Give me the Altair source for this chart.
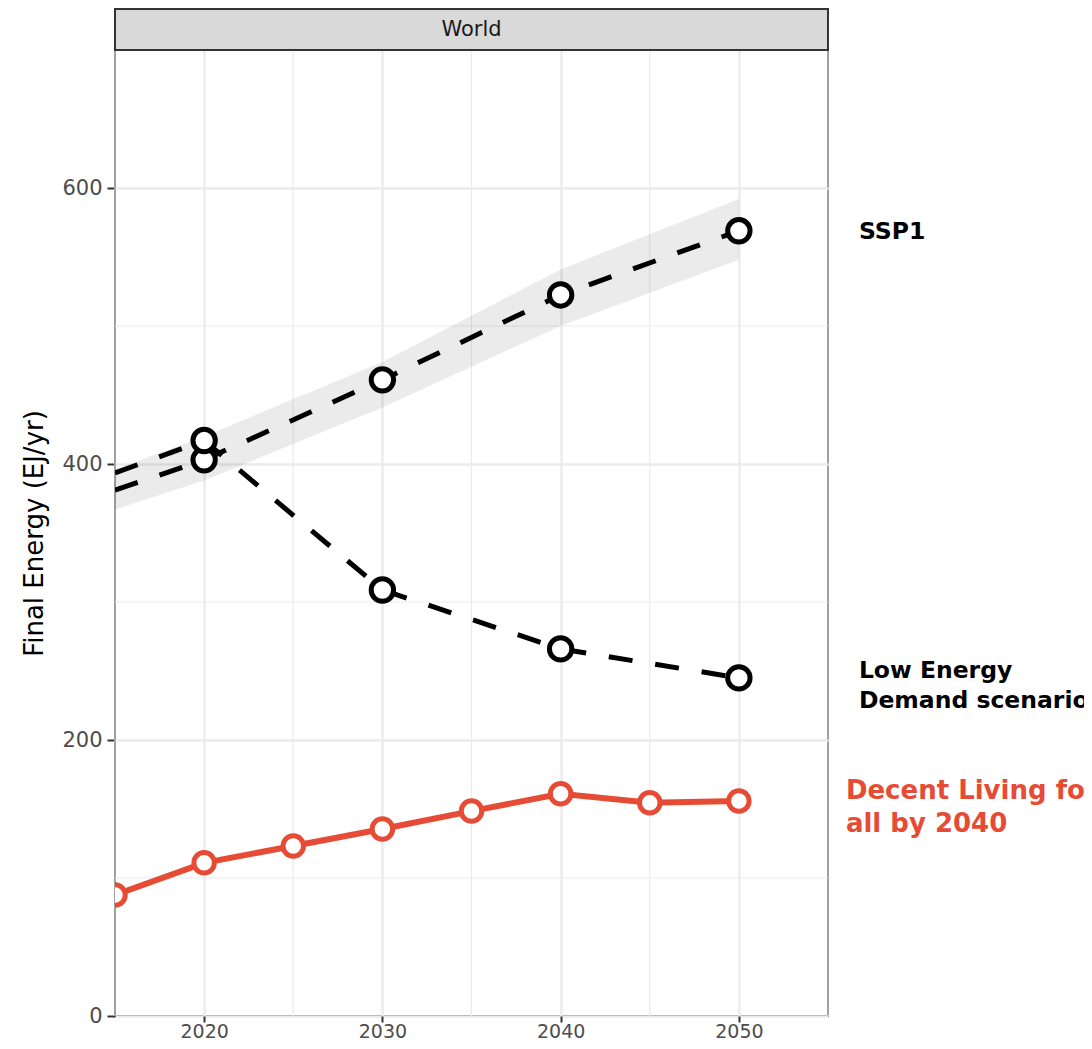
import altair as alt
import pandas as pd

# ---------------- data ----------------
ssp1_years = [2015, 2020, 2030, 2040, 2050]
ssp1_vals = [381, 403, 461, 522.5, 569]
ssp1_lo = [367, 388, 441, 500, 548]
ssp1_hi = [396, 420, 474, 541, 592]

led_years = [2015, 2020, 2030, 2040, 2050]
led_vals = [393.5, 417, 308.7, 266, 245]

dle_years = [2015, 2020, 2025, 2030, 2035, 2040, 2045, 2050]
dle_vals = [87.7, 111, 123.2, 135.5, 148.5, 161, 154.6, 155.8]

point_years_black = [2020, 2030, 2040, 2050]

minor_x = [2015, 2025, 2035, 2045, 2055]
minor_y = [100, 300, 500, 700]
x_ticks = [2020, 2030, 2040, 2050]
y_ticks = [0, 200, 400, 600]

label_black = ["SSP1", "Low Energy\nDemand scenario"]
label_black_y = [568, 250]
label_red = ["Decent Living for\nall by 2040"]
label_red_y = [163]

panel = ["World"]

# ---------------- tables ----------------
black = pd.DataFrame(
    {"scenario": ["SSP1"] * len(ssp1_years) + ["LED"] * len(led_years),
     "year": ssp1_years + led_years,
     "value": ssp1_vals + led_vals}
)
black["pt"] = black["year"].isin(point_years_black)
ribbon = pd.DataFrame({"year": ssp1_years, "lo": ssp1_lo, "hi": ssp1_hi})
dle = pd.DataFrame({"year": dle_years, "value": dle_vals})
lab_b = pd.DataFrame({"label": label_black, "year": [2050] * 2, "value": label_black_y})
lab_r = pd.DataFrame({"label": label_red, "year": [2050], "value": label_red_y})

FONT = "DejaVu Sans"
W, H = 713, 966
PAD_TOP = 42
TOTAL_W, TOTAL_H = 1076, 1033
RED = "#E64B35"

xs = alt.Scale(domain=[2015, 2055], nice=False, zero=False)
ys = alt.Scale(domain=[0, 700], nice=False)

xaxis = alt.Axis(values=x_ticks, format="d", title=None, grid=True,
                 gridColor="#EBEBEB", gridWidth=2.4, domain=False,
                 tickColor="#333333", tickWidth=2, tickSize=6,
                 labelFont=FONT, labelFontSize=19, labelColor="#4D4D4D",
                 labelPadding=0)
yaxis = alt.Axis(values=y_ticks, format="d", title="Final Energy (EJ/yr)",
                 grid=True, gridColor="#EBEBEB", gridWidth=2.4, domain=False,
                 tickColor="#333333", tickWidth=2, tickSize=8,
                 labelFont=FONT, labelFontSize=21, labelColor="#4D4D4D",
                 labelPadding=5, titleFont=FONT, titleFontSize=26,
                 titleFontWeight="normal", titleColor="black", titlePadding=14)


def X(f="year:Q"):
    return alt.X(f, scale=xs, axis=xaxis)


def Y(f="value:Q"):
    return alt.Y(f, scale=ys, axis=yaxis)


gx = alt.Chart(pd.DataFrame({"year": minor_x})).mark_rule(
    color="#EBEBEB", strokeWidth=1.2).encode(x=X())
gy = alt.Chart(pd.DataFrame({"value": minor_y})).mark_rule(
    color="#EBEBEB", strokeWidth=1.2).encode(y=Y())

rib = alt.Chart(ribbon).mark_area(color="black", opacity=0.08, clip=True).encode(
    x=X(), y=Y("lo:Q"), y2="hi:Q")

blines = alt.Chart(black).mark_line(
    color="black", strokeWidth=5, strokeDash=[24, 23], clip=True).encode(
    x=X(), y=Y(), detail="scenario:N")

bpts = alt.Chart(black).transform_filter("datum.pt").mark_point(
    shape="circle", filled=True, fill="white", stroke="black", strokeWidth=5,
    size=500, opacity=1, clip=True).encode(x=X(), y=Y())

rline = alt.Chart(dle).mark_line(color=RED, strokeWidth=6, clip=True).encode(
    x=X(), y=Y())
rpts = alt.Chart(dle).mark_point(
    shape="circle", filled=True, fill="white", stroke=RED, strokeWidth=5,
    size=420, opacity=1, clip=True).encode(x=X(), y=Y())

tb = alt.Chart(lab_b).mark_text(
    align="left", baseline="middle", dx=120, font=FONT, fontSize=23.5,
    fontWeight="bold", color="black", lineBreak="\n", lineHeight=30).encode(
    x=X(), y=Y(), text="label:N")
tr = alt.Chart(lab_r).mark_text(
    align="left", baseline="middle", dx=107, font=FONT, fontSize=26,
    fontWeight="bold", color=RED, lineBreak="\n", lineHeight=33).encode(
    x=X(), y=Y(), text="label:N")

strip_df = pd.DataFrame({"panel": panel})
strip_rect = alt.Chart(strip_df).mark_rect(
    fill="#D9D9D9", stroke="#333333", strokeWidth=2).encode(
    x=alt.value(0), x2=alt.value(W), y=alt.value(-(PAD_TOP - 1)), y2=alt.value(0))
strip_text = alt.Chart(strip_df).mark_text(
    font=FONT, fontSize=21, color="#1A1A1A", baseline="middle").encode(
    text="panel:N", x=alt.value(W / 2), y=alt.value(-(PAD_TOP - 1) / 2))

chart = alt.layer(
    gx, gy, rib, blines, rline, bpts, rpts, tb, tr, strip_rect, strip_text
).properties(
    width=W, height=H,
    autosize=alt.AutoSizeParams(type="none"),
    padding={"left": 107, "top": PAD_TOP, "right": TOTAL_W - 107 - W,
             "bottom": TOTAL_H - PAD_TOP - H},
    background="white",
).configure_view(fill="white", stroke="#333333", strokeWidth=2)

chart.save("out.html", embed_options={"renderer": "svg", "actions": False})
